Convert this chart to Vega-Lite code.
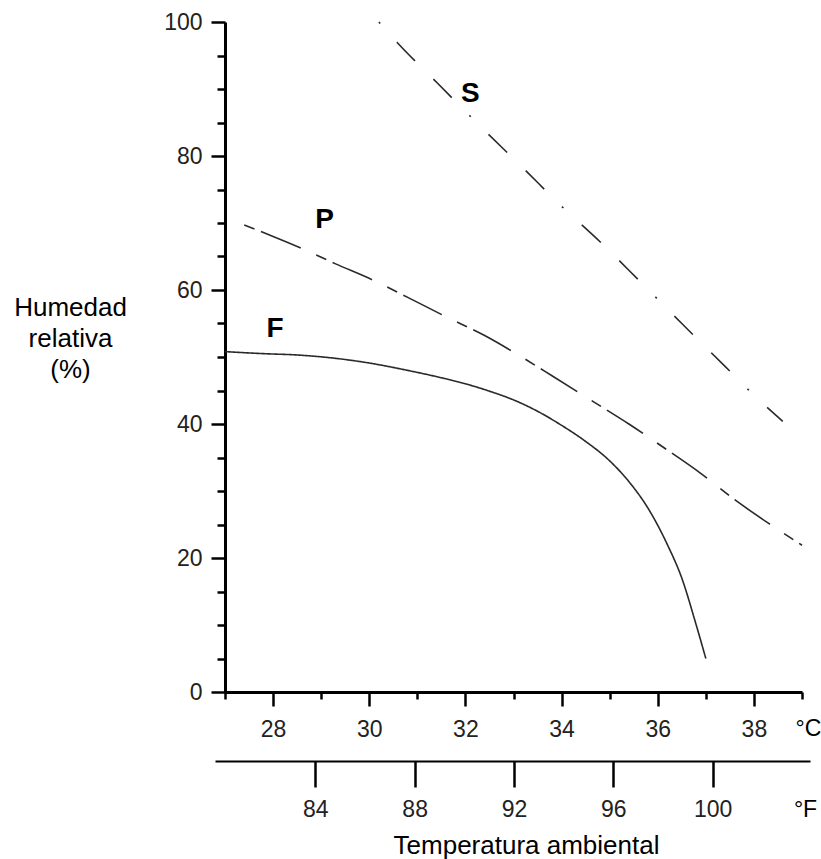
{
  "$schema": "https://vega.github.io/schema/vega-lite/v6.json",
  "width": 577,
  "height": 670,
  "autosize": "none",
  "padding": {"left": 225, "top": 22, "right": 19, "bottom": 167},
  "background": "white",
  "config": {
    "view": {"stroke": null},
    "font": "Liberation Sans",
    "axis": {"grid": false, "domainColor": "black", "tickColor": "black", "labelColor": "#222", "labelFont": "Liberation Sans", "titleFont": "Liberation Sans", "titleFontWeight": "normal", "titleColor": "black"}
  },
  "title": {"text": "Temperatura ambiental", "orient": "bottom", "anchor": "middle", "fontSize": 26, "fontWeight": "normal", "font": "Liberation Sans", "color": "black", "offset": 12, "dx": 13},
  "resolve": {"scale": {"x": "independent"}, "axis": {"x": "independent"}},
  "layer": [
    {
      "encoding": {
        "x": {
          "field": "temp_c", "type": "quantitative",
          "scale": {"domain": [27, 39], "nice": false, "zero": false},
          "axis": {
            "orient": "bottom",
            "values": [27, 27.5, 28, 28.5, 29, 29.5, 30, 30.5, 31, 31.5, 32, 32.5, 33, 33.5, 34, 34.5, 35, 35.5, 36, 36.5, 37, 37.5, 38, 38.5, 39],
            "format": "d",
            "labelExpr": "datum.value % 2 === 0 ? datum.label : ''",
            "tickSize": {"condition": {"test": "datum.value % 2 === 0", "value": 14}, "value": 7},
            "tickWidth": 2.5,
            "domainWidth": 3,
            "labelFontSize": 23,
            "labelPadding": 12,
            "labelOverlap": false,
            "labelFlush": false,
            "title": "°C",
            "titleFontSize": 23,
            "titleX": 583,
            "titleY": 36,
            "titleAlign": "center",
            "titleBaseline": "middle"
          }
        },
        "y": {
          "field": "humidity", "type": "quantitative",
          "scale": {"domain": [0, 100], "nice": false},
          "axis": {
            "values": [0, 5, 10, 15, 20, 25, 30, 35, 40, 45, 50, 55, 60, 65, 70, 75, 80, 85, 90, 95, 100],
            "labelExpr": "datum.value % 20 === 0 ? datum.label : ''",
            "tickSize": {"condition": {"test": "datum.value % 20 === 0", "value": 14}, "value": 8},
            "tickWidth": 2.5,
            "domainWidth": 3,
            "labelFontSize": 23,
            "labelPadding": 9,
            "labelOverlap": false,
            "title": ["Humedad", "relativa", "(%)"],
            "titleAngle": 0,
            "titleFontSize": 26,
            "titleLineHeight": 31,
            "titleAlign": "center",
            "titleBaseline": "middle",
            "titleX": -155,
            "titleY": 285
          }
        }
      },
      "layer": [
        {
          "data": {"values": [
            {"series": "F", "temp_c": 27.0, "humidity": 50.8},
            {"series": "F", "temp_c": 27.8, "humidity": 50.5},
            {"series": "F", "temp_c": 28.5, "humidity": 50.3},
            {"series": "F", "temp_c": 29.3, "humidity": 49.8},
            {"series": "F", "temp_c": 30.0, "humidity": 49.1},
            {"series": "F", "temp_c": 30.8, "humidity": 48.0},
            {"series": "F", "temp_c": 31.5, "humidity": 46.9},
            {"series": "F", "temp_c": 32.0, "humidity": 46.0},
            {"series": "F", "temp_c": 32.5, "humidity": 44.9},
            {"series": "F", "temp_c": 33.0, "humidity": 43.6},
            {"series": "F", "temp_c": 33.5, "humidity": 41.9},
            {"series": "F", "temp_c": 34.0, "humidity": 39.8},
            {"series": "F", "temp_c": 34.5, "humidity": 37.4},
            {"series": "F", "temp_c": 35.0, "humidity": 34.5},
            {"series": "F", "temp_c": 35.4, "humidity": 31.4},
            {"series": "F", "temp_c": 35.8, "humidity": 27.4},
            {"series": "F", "temp_c": 36.2, "humidity": 22.0},
            {"series": "F", "temp_c": 36.5, "humidity": 17.0},
            {"series": "F", "temp_c": 36.8, "humidity": 10.0},
            {"series": "F", "temp_c": 37.0, "humidity": 5.0},
            {"series": "P", "temp_c": 27.4, "humidity": 69.7},
            {"series": "P", "temp_c": 28.0, "humidity": 68.0},
            {"series": "P", "temp_c": 28.6, "humidity": 66.2},
            {"series": "P", "temp_c": 29.3, "humidity": 63.9},
            {"series": "P", "temp_c": 30.1, "humidity": 61.4},
            {"series": "P", "temp_c": 30.8, "humidity": 58.9},
            {"series": "P", "temp_c": 31.6, "humidity": 56.0},
            {"series": "P", "temp_c": 32.4, "humidity": 53.2},
            {"series": "P", "temp_c": 33.1, "humidity": 50.3},
            {"series": "P", "temp_c": 33.8, "humidity": 47.2},
            {"series": "P", "temp_c": 34.6, "humidity": 43.6},
            {"series": "P", "temp_c": 35.4, "humidity": 40.0},
            {"series": "P", "temp_c": 36.1, "humidity": 36.6},
            {"series": "P", "temp_c": 36.9, "humidity": 32.6},
            {"series": "P", "temp_c": 37.6, "humidity": 28.7},
            {"series": "P", "temp_c": 38.3, "humidity": 25.2},
            {"series": "P", "temp_c": 39.0, "humidity": 21.9},
            {"series": "S", "temp_c": 30.2, "humidity": 100.0},
            {"series": "S", "temp_c": 30.6, "humidity": 96.8},
            {"series": "S", "temp_c": 31.4, "humidity": 91.0},
            {"series": "S", "temp_c": 32.3, "humidity": 84.5},
            {"series": "S", "temp_c": 33.2, "humidity": 78.2},
            {"series": "S", "temp_c": 34.0, "humidity": 72.5},
            {"series": "S", "temp_c": 34.8, "humidity": 67.2},
            {"series": "S", "temp_c": 35.6, "humidity": 61.5},
            {"series": "S", "temp_c": 36.5, "humidity": 55.0},
            {"series": "S", "temp_c": 37.4, "humidity": 48.6},
            {"series": "S", "temp_c": 38.0, "humidity": 44.3},
            {"series": "S", "temp_c": 38.6, "humidity": 40.4}
          ]},
          "mark": {"type": "line", "strokeWidth": 1.6, "color": "#2a2a2a", "interpolate": "monotone"},
          "encoding": {
            "strokeDash": {
              "field": "series", "type": "nominal",
              "scale": {"domain": ["F", "P", "S"], "range": [[1, 0], [11, 7, 43, 17], [2, 25, 26, 26, 26, 25]]},
              "legend": null
            }
          }
        },
        {
          "data": {"values": [
            {"series": "S", "temp_c": 32.1, "humidity": 89.3},
            {"series": "P", "temp_c": 29.07, "humidity": 70.4},
            {"series": "F", "temp_c": 28.04, "humidity": 54.2}
          ]},
          "mark": {"type": "text", "fontSize": 28, "fontWeight": "bold", "font": "Liberation Sans", "color": "black", "align": "center", "baseline": "middle"},
          "encoding": {
            "text": {"field": "series"}
          }
        }
      ]
    },
    {
      "data": {"values": [
        {"temp_f": 84}, {"temp_f": 88}, {"temp_f": 92}, {"temp_f": 96}, {"temp_f": 100}
      ]},
      "mark": {"type": "rule", "opacity": 0},
      "encoding": {
        "x": {
          "field": "temp_f", "type": "quantitative",
          "scale": {"domain": [79.96, 103.92], "range": [-10, 585], "nice": false, "zero": false},
          "axis": {
            "orient": "bottom",
            "offset": 69,
            "values": [84, 88, 92, 96, 100],
            "tickSize": 26,
            "tickWidth": 2.5,
            "domainWidth": 2,
            "labelFontSize": 23,
            "labelPadding": 11,
            "labelOverlap": false,
            "labelFlush": false,
            "title": "°F",
            "titleFontSize": 23,
            "titleX": 580,
            "titleY": 48,
            "titleAlign": "center",
            "titleBaseline": "middle"
          }
        }
      }
    }
  ]
}
